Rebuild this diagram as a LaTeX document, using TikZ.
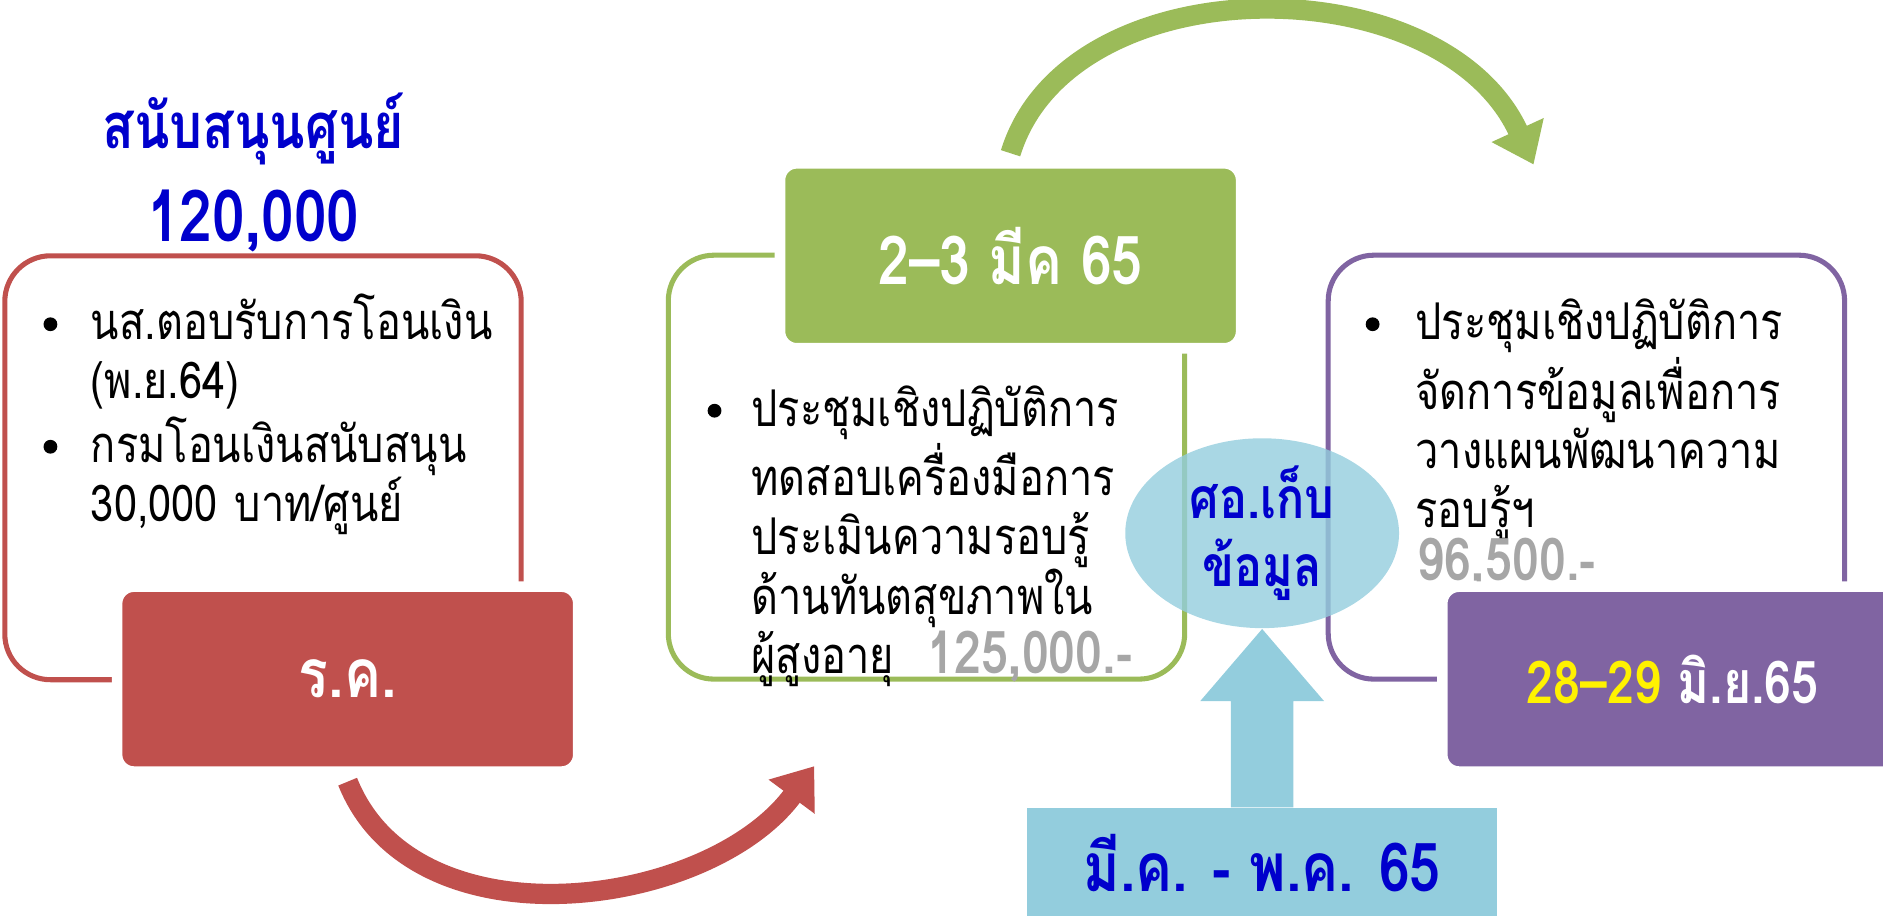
\documentclass[tikz,border=0pt]{standalone}
\usepackage{fontspec}
\newfontfamily\thaifont[Script=Thai,FakeStretch=0.82]{Loma}
\usetikzlibrary{arrows.meta,shapes.geometric}
\definecolor{rcol}{HTML}{C0504D}
\definecolor{gcol}{HTML}{9BBB59}
\definecolor{pcol}{HTML}{8064A2}
\definecolor{bcol}{HTML}{93CDDD}
\definecolor{navy}{HTML}{0000CC}
\definecolor{grey}{HTML}{A6A6A6}
\begin{document}
\begin{tikzpicture}[
  boxframe/.style={draw=#1, line width=1.2pt, rounded corners=0.38cm, minimum width=4.3cm, minimum height=3.53cm, inner sep=0pt},
  datebox/.style={fill=#1, draw=white, line width=2.5pt, rounded corners=0.14cm, minimum width=3.84cm, minimum height=1.54cm, text=white, font=\thaifont\bfseries\fontsize{16}{19}\selectfont},
  bulletdot/.style={circle, fill, inner sep=0pt, minimum size=0.115cm},
  body/.style={anchor=base west, inner sep=0pt, align=left, text width=#1, font=\thaifont\fontsize{12}{14}\selectfont},
  flowarrow/.style={draw=#1, line width=4.8pt, -{Triangle[length=9pt,width=13pt]}},
  headline/.style={text=navy, font=\thaifont\bfseries\fontsize{#1}{18}\selectfont},
  amount/.style={font=\thaifont\bfseries\fontsize{14}{14}\selectfont, text=grey},
]
\useasboundingbox (0,0) rectangle (15.68,-7.62);
\node[headline=15] (title) at (2.11,-1.07){สนับสนุนศูนย์};
\node[headline=17] (budget) at (2.11,-1.84){120,000};

\node[boxframe=rcol] (rframe) at (2.19,-3.895){};
\node[boxframe=gcol] (gframe) at (7.715,-3.89){};
\node[boxframe=pcol] (pframe) at (13.21,-3.89){};

\node[bulletdot] (rb1) at (0.42,-2.70){};
\node[body=3.6cm] (rt1) at (0.75,-2.83){นส.ตอบรับการโอนเงิน\\(พ.ย.64)};
\node[bulletdot] (rb2) at (0.42,-3.72){};
\node[body=3.6cm] (rt2) at (0.75,-3.85){กรมโอนเงินสนับสนุน\\30,000 บาท/ศูนย์};

\node[bulletdot] (gb1) at (5.95,-3.42){};
\node[body=3.8cm] (gt1) at (6.25,-3.55){ประชุมเชิงปฏิบัติการ\\ทดสอบเครื่องมือการ\\ประเมินความรอบรู้\\ด้านทันตสุขภาพใน\\ผู้สูงอายุ\ \ {\bfseries\fontsize{14}{14}\selectfont\color{grey}125,000.-}};

\node[bulletdot] (pb1) at (11.43,-2.70){};
\node[body=3.8cm] (pt1) at (11.78,-2.83){ประชุมเชิงปฏิบัติการ\\จัดการข้อมูลเพื่อการ\\วางแผนพัฒนาความ\\รอบรู้ฯ};
\node[amount, anchor=base west, inner sep=0pt] (pcost) at (11.80,-4.83){96,500.-};

\node[datebox=rcol] (rc) at (2.895,-5.655){ร.ค.};
\node[datebox=gcol] (gd) at (8.415,-2.13){2–3 มีค 65};
\node[datebox=pcol, font=\thaifont\bfseries\fontsize{14}{17}\selectfont] (pd) at (13.93,-5.655){{\color{yellow}28–29} มิ.ย.65};

\node[ellipse, fill=bcol, fill opacity=0.8, text opacity=1, minimum width=2.28cm, minimum height=1.5cm, inner sep=0pt, align=center, text=navy, font=\thaifont\bfseries\fontsize{13.5}{16}\selectfont] (store) at (10.51,-4.44){ศอ.เก็บ\\ข้อมูล};
\node[fill=bcol, minimum width=3.91cm, minimum height=0.92cm, text=navy, font=\thaifont\bfseries\fontsize{16}{18}\selectfont] (period) at (10.51,-7.19){มี.ค. - พ.ค. 65};
\fill[bcol] ([xshift=-0.26cm]period.north) -- ([xshift=-0.26cm,yshift=-0.6cm]store.south) -- ([xshift=-0.515cm,yshift=-0.6cm]store.south) -- (store.south) -- ([xshift=0.515cm,yshift=-0.6cm]store.south) -- ([xshift=0.26cm,yshift=-0.6cm]store.south) -- ([xshift=0.26cm]period.north) -- cycle;

\coordinate (rtip) at (6.78,-6.38);
\coordinate (gtip) at (12.77,-1.37);
\draw[flowarrow=rcol] ([yshift=-0.04cm]rc.south) .. controls (3.45,-7.9) and (5.9,-7.57) .. (rtip);
\draw[flowarrow=gcol] ([yshift=0.04cm]gd.north) .. controls (8.9,0.3) and (12.0,0.3) .. (gtip);

\end{tikzpicture}
\end{document}
